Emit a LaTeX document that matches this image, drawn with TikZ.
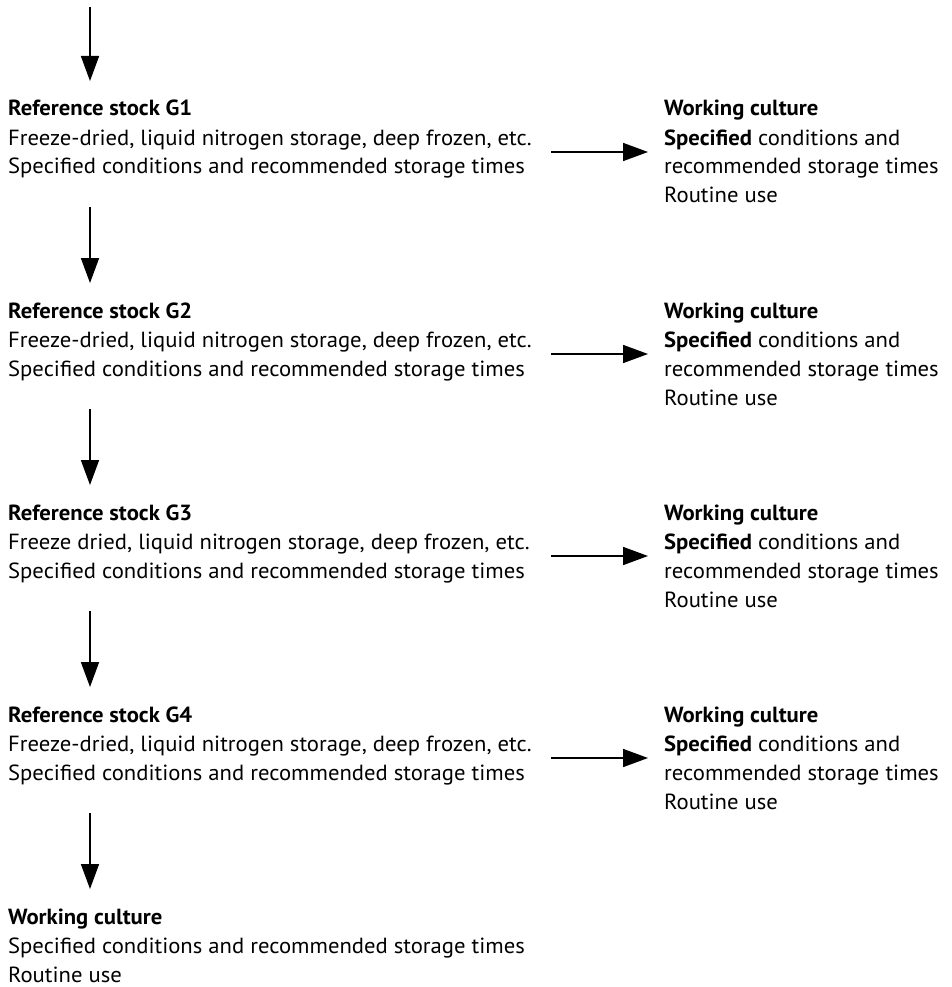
\documentclass[tikz,border=0pt]{standalone}
\usepackage{fontspec}
\setmainfont[FakeStretch=1.035]{PT Sans}
\usetikzlibrary{arrows.meta}
\begin{document}
\begin{tikzpicture}[x=1pt,y=-1pt,
  blk/.style={anchor=base west,align=left,inner sep=0pt,font=\fontsize{21.9}{29}\selectfont},
  arr/.style={line width=1.7pt,-{Triangle[length=25pt,width=18pt]}}]
\useasboundingbox (0,0) rectangle (951,987);
% left blocks (anchor = baseline of last line; title baselines 116 + 202k)
\node[blk] (g1) at (8,174) {\textbf{Reference stock G1}\\Freeze-dried, liquid nitrogen storage, deep frozen, etc.\\Specified conditions and recommended storage times};
\node[blk] (g2) at (8,376) {\textbf{Reference stock G2}\\Freeze-dried, liquid nitrogen storage, deep frozen, etc.\\Specified conditions and recommended storage times};
\node[blk] (g3) at (8,578) {\textbf{Reference stock G3}\\Freeze dried, liquid nitrogen storage, deep frozen, etc.\\Specified conditions and recommended storage times};
\node[blk] (g4) at (8,780) {\textbf{Reference stock G4}\\Freeze-dried, liquid nitrogen storage, deep frozen, etc.\\Specified conditions and recommended storage times};
\node[blk] (wb) at (8,982) {\textbf{Working culture}\\Specified conditions and recommended storage times\\Routine use};
% right blocks
\node[blk] (w1) at (664,203) {\textbf{Working culture}\\\textbf{Specified} conditions and\\recommended storage times\\Routine use};
\node[blk] (w2) at (664,405) {\textbf{Working culture}\\\textbf{Specified} conditions and\\recommended storage times\\Routine use};
\node[blk] (w3) at (664,607) {\textbf{Working culture}\\\textbf{Specified} conditions and\\recommended storage times\\Routine use};
\node[blk] (w4) at (664,809) {\textbf{Working culture}\\\textbf{Specified} conditions and\\recommended storage times\\Routine use};
% vertical connector coordinates
\coordinate (s0) at (90,7);   \coordinate (e0) at (90,81);
\coordinate (s1) at (90,207); \coordinate (e1) at (90,283);
\coordinate (s2) at (90,409); \coordinate (e2) at (90,485);
\coordinate (s3) at (90,611); \coordinate (e3) at (90,687);
\coordinate (s4) at (90,813); \coordinate (e4) at (90,889);
\draw[arr] (s0) -- (e0);
\draw[arr] (s1) -- (e1);
\draw[arr] (s2) -- (e2);
\draw[arr] (s3) -- (e3);
\draw[arr] (s4) -- (e4);
% horizontal connectors
\coordinate (h1) at (551,152); \coordinate (k1) at (648,152);
\coordinate (h2) at (551,354); \coordinate (k2) at (648,354);
\coordinate (h3) at (551,556); \coordinate (k3) at (648,556);
\coordinate (h4) at (551,758); \coordinate (k4) at (648,758);
\draw[arr] (h1) -- (k1);
\draw[arr] (h2) -- (k2);
\draw[arr] (h3) -- (k3);
\draw[arr] (h4) -- (k4);
\end{tikzpicture}
\end{document}
